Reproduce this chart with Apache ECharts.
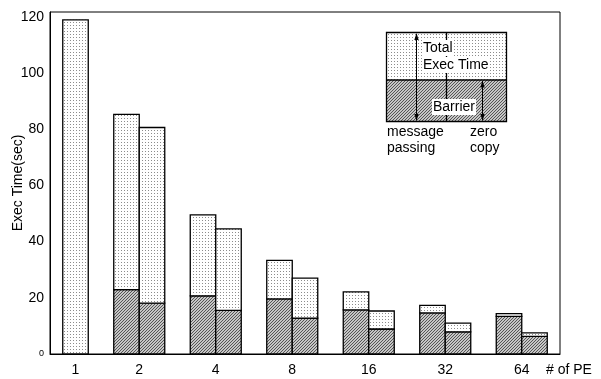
<!DOCTYPE html>
<html>
<head>
<meta charset="utf-8">
<script src="https://cdn.jsdelivr.net/npm/echarts@6/dist/echarts.min.js"></script>
<style>html,body{margin:0;padding:0;background:#fff}#c{width:601px;height:379px}</style>
</head>
<body>
<div id="c"></div>
<script>
// ---- data ----
const pe = ['1', '2', '4', '8', '16', '32', '64'];
// message passing (left bar of each pair)
const mpTotal   = [null, 85.3, 49.5, 33.3, 22.1, 17.3, 14.4];
const mpBarrier = [null, 22.9, 20.7, 19.6, 15.7, 14.6, 13.4];
// zero copy (right bar of each pair); the single-PE run sits in this slot
const zcTotal   = [118.9, 80.6, 44.5, 27.0, 15.3, 11.0, 7.5];
const zcBarrier = [0, 18.1, 15.5, 12.8, 8.9, 7.9, 6.3];
const yTicks = [0, 20, 40, 60, 80, 100, 120];

const FONT = "'Liberation Sans', Arial, sans-serif";

function makeDots() {
  const c = document.createElement('canvas'); c.width = 3; c.height = 3;
  const g = c.getContext('2d');
  g.fillStyle = '#ffffff'; g.fillRect(0, 0, 3, 3);
  g.fillStyle = '#8c8c8c'; g.fillRect(1, 1, 1, 1);
  return c;
}
function makeHatch() {
  const c = document.createElement('canvas'); c.width = 3; c.height = 3;
  const g = c.getContext('2d');
  g.fillStyle = '#c6c6c6'; g.fillRect(0, 0, 3, 3);
  g.fillStyle = '#555555';
  for (let k = 0; k < 3; k++) g.fillRect(k, 2 - k, 1, 1);
  return c;
}
const dotFill = { image: makeDots(), repeat: 'repeat' };
const hatchFill = { image: makeHatch(), repeat: 'repeat' };

// build rows: [catIndex, slot(0=mp,1=zc), low, high, kind(1=barrier,0=rest)]
const rows = [];
for (let i = 0; i < pe.length; i++) {
  [[mpTotal, mpBarrier, 0], [zcTotal, zcBarrier, 1]].forEach(([tot, bar, s]) => {
    if (tot[i] == null) return;
    if (bar[i] > 0) rows.push([i, s, 0, bar[i], 1]);
    rows.push([i, s, bar[i], tot[i], 0]);
  });
}
function pairCenter(i) { return 0.5 + 3 * i; }
function labelPos(i) { return mpTotal[i] == null ? pairCenter(i) + 0.5 : pairCenter(i); }

const chart = echarts.init(document.getElementById('c'), null, { renderer: 'canvas' });
chart.setOption({
  animation: false,
  textStyle: { fontFamily: FONT },
  grid: { left: 50, right: 41, top: 12, bottom: 25, containLabel: false, outerBoundsMode: 'none',
          show: true, borderColor: '#000', borderWidth: 1 },
  xAxis: {
    type: 'value', min: 0, max: 20, interval: 0.5,
    name: '# of PE', nameLocation: 'end', nameGap: -14,
    nameTextStyle: { fontSize: 14, color: '#000', align: 'left', verticalAlign: 'top', padding: [9, 0, 0, 0], fontFamily: FONT },
    axisLine: { show: true, lineStyle: { color: '#000', width: 1 } },
    axisTick: { show: false },
    splitLine: { show: false },
    axisLabel: {
      color: '#000', fontSize: 14, margin: 9, fontFamily: FONT,
      formatter: function (v) {
        for (let i = 0; i < pe.length; i++) if (Math.abs(v - labelPos(i)) < 1e-6) return pe[i];
        return '';
      }
    }
  },
  yAxis: {
    type: 'value', min: 0, max: 121.7, interval: 20,
    name: 'Exec Time(sec)', nameLocation: 'middle', nameRotate: 90, nameGap: 25, nameMoveOverlap: false,
    nameTextStyle: { fontSize: 14, color: '#000', fontFamily: FONT },
    axisLine: { show: true, lineStyle: { color: '#000', width: 1 } },
    axisTick: { show: false },
    splitLine: { show: false },
    axisLabel: {
      color: '#000', fontSize: 14, margin: 6, fontFamily: FONT,
      formatter: function (v) {
        if (yTicks.indexOf(v) < 0) return '';
        return v === 0 ? '{s|0}' : String(v);
      },
      rich: { s: { fontSize: 9, color: '#000', fontFamily: FONT } }
    }
  },
  series: [{
    type: 'custom',
    coordinateSystem: 'cartesian2d',
    data: rows,
    encode: { x: 0, y: 3 },
    renderItem: function (params, api) {
      const i = api.value(0), s = api.value(1), lo = api.value(2), hi = api.value(3), kind = api.value(4);
      const c = pairCenter(i);
      const x0 = s === 0 ? c - 1 : c;
      const p0 = api.coord([x0, hi]);
      const p1 = api.coord([x0 + 1, lo]);
      return {
        type: 'rect',
        shape: { x: p0[0], y: p0[1], width: p1[0] - p0[0], height: p1[1] - p0[1] },
        style: { fill: kind ? hatchFill : dotFill, stroke: '#000', lineWidth: 1.3 }
      };
    }
  }],
  graphic: [
    { type: 'rect', silent: true, shape: { x: 386.5, y: 32.5, width: 120, height: 47.5 }, style: { fill: dotFill } },
    { type: 'rect', silent: true, shape: { x: 386.5, y: 80, width: 120, height: 41.5 }, style: { fill: hatchFill } },
    { type: 'rect', silent: true, shape: { x: 386.5, y: 32.5, width: 120, height: 89 }, style: { fill: 'none', stroke: '#000', lineWidth: 1.3 } },
    { type: 'line', silent: true, shape: { x1: 386.5, y1: 80, x2: 506.5, y2: 80 }, style: { stroke: '#000', lineWidth: 1.3 } },
    { type: 'line', silent: true, shape: { x1: 446.5, y1: 32.5, x2: 446.5, y2: 121.5 }, style: { stroke: '#000', lineWidth: 1.3 } },
    { type: 'line', silent: true, shape: { x1: 416.5, y1: 34, x2: 416.5, y2: 120 }, style: { stroke: '#000', lineWidth: 1 } },
    { type: 'polygon', silent: true, shape: { points: [[416.5, 33], [414.3, 40], [418.7, 40]] }, style: { fill: '#000' } },
    { type: 'polygon', silent: true, shape: { points: [[416.5, 121], [414.3, 114], [418.7, 114]] }, style: { fill: '#000' } },
    { type: 'line', silent: true, shape: { x1: 482.5, y1: 81, x2: 482.5, y2: 120 }, style: { stroke: '#000', lineWidth: 1 } },
    { type: 'polygon', silent: true, shape: { points: [[482.5, 80.5], [480.3, 87.5], [484.7, 87.5]] }, style: { fill: '#000' } },
    { type: 'polygon', silent: true, shape: { points: [[482.5, 121], [480.3, 114], [484.7, 114]] }, style: { fill: '#000' } },
    { type: 'text', silent: true, x: 422, y: 48, style: { text: 'Total', font: '14px ' + FONT, fill: '#000', verticalAlign: 'middle', backgroundColor: '#fff', padding: [1, 1, 1, 1] } },
    { type: 'text', silent: true, x: 422, y: 65, style: { text: 'Exec Time', font: '14px ' + FONT, fill: '#000', verticalAlign: 'middle', backgroundColor: '#fff', padding: [1, 1, 1, 1] } },
    { type: 'text', silent: true, x: 432, y: 107, style: { text: 'Barrier', font: '14px ' + FONT, fill: '#000', verticalAlign: 'middle', backgroundColor: '#fff', padding: [1, 1, 1, 1] } },
    { type: 'text', silent: true, x: 387, y: 132, style: { text: 'message', font: '14px ' + FONT, fill: '#000', verticalAlign: 'middle' } },
    { type: 'text', silent: true, x: 387, y: 148, style: { text: 'passing', font: '14px ' + FONT, fill: '#000', verticalAlign: 'middle' } },
    { type: 'text', silent: true, x: 470, y: 132, style: { text: 'zero', font: '14px ' + FONT, fill: '#000', verticalAlign: 'middle' } },
    { type: 'text', silent: true, x: 470, y: 148, style: { text: 'copy', font: '14px ' + FONT, fill: '#000', verticalAlign: 'middle' } }
  ]
});
</script>
</body>
</html>
